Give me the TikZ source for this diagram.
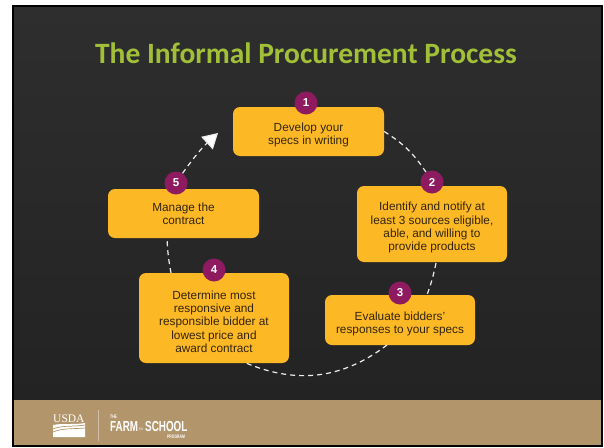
\documentclass[tikz,border=0pt]{standalone}
\usepackage{fontspec}
\setmainfont{Liberation Sans}
\newfontfamily\titlefont{Carlito}
\newfontfamily\usdafont{Liberation Serif}
\newfontfamily\logofont[FakeStretch=0.68]{Liberation Sans}
\usetikzlibrary{arrows.meta}
\definecolor{boardtop}{HTML}{2E2E2E}
\definecolor{boardlow}{HTML}{232323}
\definecolor{kraft}{HTML}{B3956C}
\definecolor{stepfill}{HTML}{FDB825}
\definecolor{stepink}{HTML}{33250C}
\definecolor{badgefill}{HTML}{8E1B60}
\definecolor{titleink}{HTML}{A2C037}
\definecolor{chalk}{HTML}{EDEDED}
\newcommand{\lowerby}{\rule{0pt}{16pt}}
\begin{document}
\begin{tikzpicture}[
                x=1pt,
                y=-1pt,
                stepbox/.style={fill=stepfill, rounded corners=7pt, align=center, inner sep=0pt,
                    text=stepink, font=\fontsize{11.8}{13.3}\selectfont},
                badge/.style={circle, fill=badgefill, text=white, minimum size=23pt, inner sep=0pt,
                    font=\fontsize{11.5}{13}\selectfont\bfseries},
                link/.style={draw=chalk, line width=1.2pt, dash pattern=on 5pt off 4pt},
                logotext/.style={text=white, inner sep=0pt, anchor=base west}
            ]
            \useasboundingbox (0,0) rectangle (604,447);
            \fill[white] (0,0) rectangle (604,447);
            \fill[black] (12,5) rectangle (603,447);
            \shade[top color=boardtop, bottom color=boardlow] (14,7) rectangle (601,400);
            \fill[kraft] (14,400) rectangle (601,445);
            \node[text=titleink, font=\fontsize{29.5}{32}\titlefont\bfseries] (title) at (306,53) {The Informal Procurement Process};

            \node[stepbox, minimum width=151pt, minimum height=49pt] (box1) at (308.5,131.5) {\lowerby Develop your\\specs in writing};
            \node[stepbox, minimum width=150pt, minimum height=76pt] (box2) at (432,224) {\lowerby Identify and notify at\\least 3 sources eligible,\\able, and willing to\\provide products};
            \node[stepbox, minimum width=150pt, minimum height=50pt] (box3) at (400,320) {\lowerby Evaluate bidders'\\responses to your specs};
            \node[stepbox, minimum width=150pt, minimum height=90pt] (box4) at (214,318) {\lowerby Determine most\\responsive and\\responsible bidder at\\lowest price and\\award contract};
            \node[stepbox, minimum width=151pt, minimum height=49pt] (box5) at (183.5,213.5) {Manage the\\contract};

            \node[badge] (badge1) at (306,103) {1};
            \node[badge] (badge2) at (432,182) {2};
            \node[badge] (badge3) at (400,293) {3};
            \node[badge] (badge4) at (214,270) {4};
            \node[badge] (badge5) at (176,183) {5};

            \coordinate (out2) at (436,263);
            \coordinate (in3) at (427,295);
            \coordinate (out3) at (387,345);
            \coordinate (in4) at (246,363);
            \coordinate (out4) at (171,273);
            \coordinate (in5) at (167,238);
            \coordinate (tip1) at (218,133);

            \draw[link] (box1.east) to[bend left=12] (badge2);
            \draw[link] (out2) to[bend left=4] (in3);
            \draw[link] (out3) to[bend left=30] (in4);
            \draw[link] (out4) to[bend left=4] (in5);
            \draw[link, -{Triangle[length=15pt,width=17pt,fill=white]}] (badge5) to[bend left=6] (tip1);

            \node[logotext, font=\fontsize{11.5}{12}\usdafont] (usda) at (53,422) {USDA};
            \fill[white] (53,425) .. controls (62,423) and (74,425) .. (85,423) -- (85,437) -- (53,437) -- cycle;
            \draw[kraft, line width=.7pt] (53,429) .. controls (62,425) and (74,427) .. (85,425);
            \draw[kraft, line width=.7pt] (53,432) .. controls (62,428) and (74,429) .. (85,428);
            \draw[kraft!60!white, line width=.8pt] (98,410) -- (98,441);
            \node[logotext, font=\fontsize{5}{5}\logofont\bfseries] (the) at (110,418) {THE};
            \node[logotext, font=\fontsize{14.5}{15}\logofont\bfseries] (farm) at (110,431) {FARM};
            \node[logotext, font=\fontsize{5}{6}\usdafont\itshape] (to) at (139,430) {to};
            \node[logotext, font=\fontsize{14.5}{15}\logofont\bfseries] (school) at (145,431) {SCHOOL};
            \node[logotext, font=\fontsize{5}{5}\logofont\bfseries] (program) at (167,438) {PROGRAM};
        \end{tikzpicture}
\end{document}
